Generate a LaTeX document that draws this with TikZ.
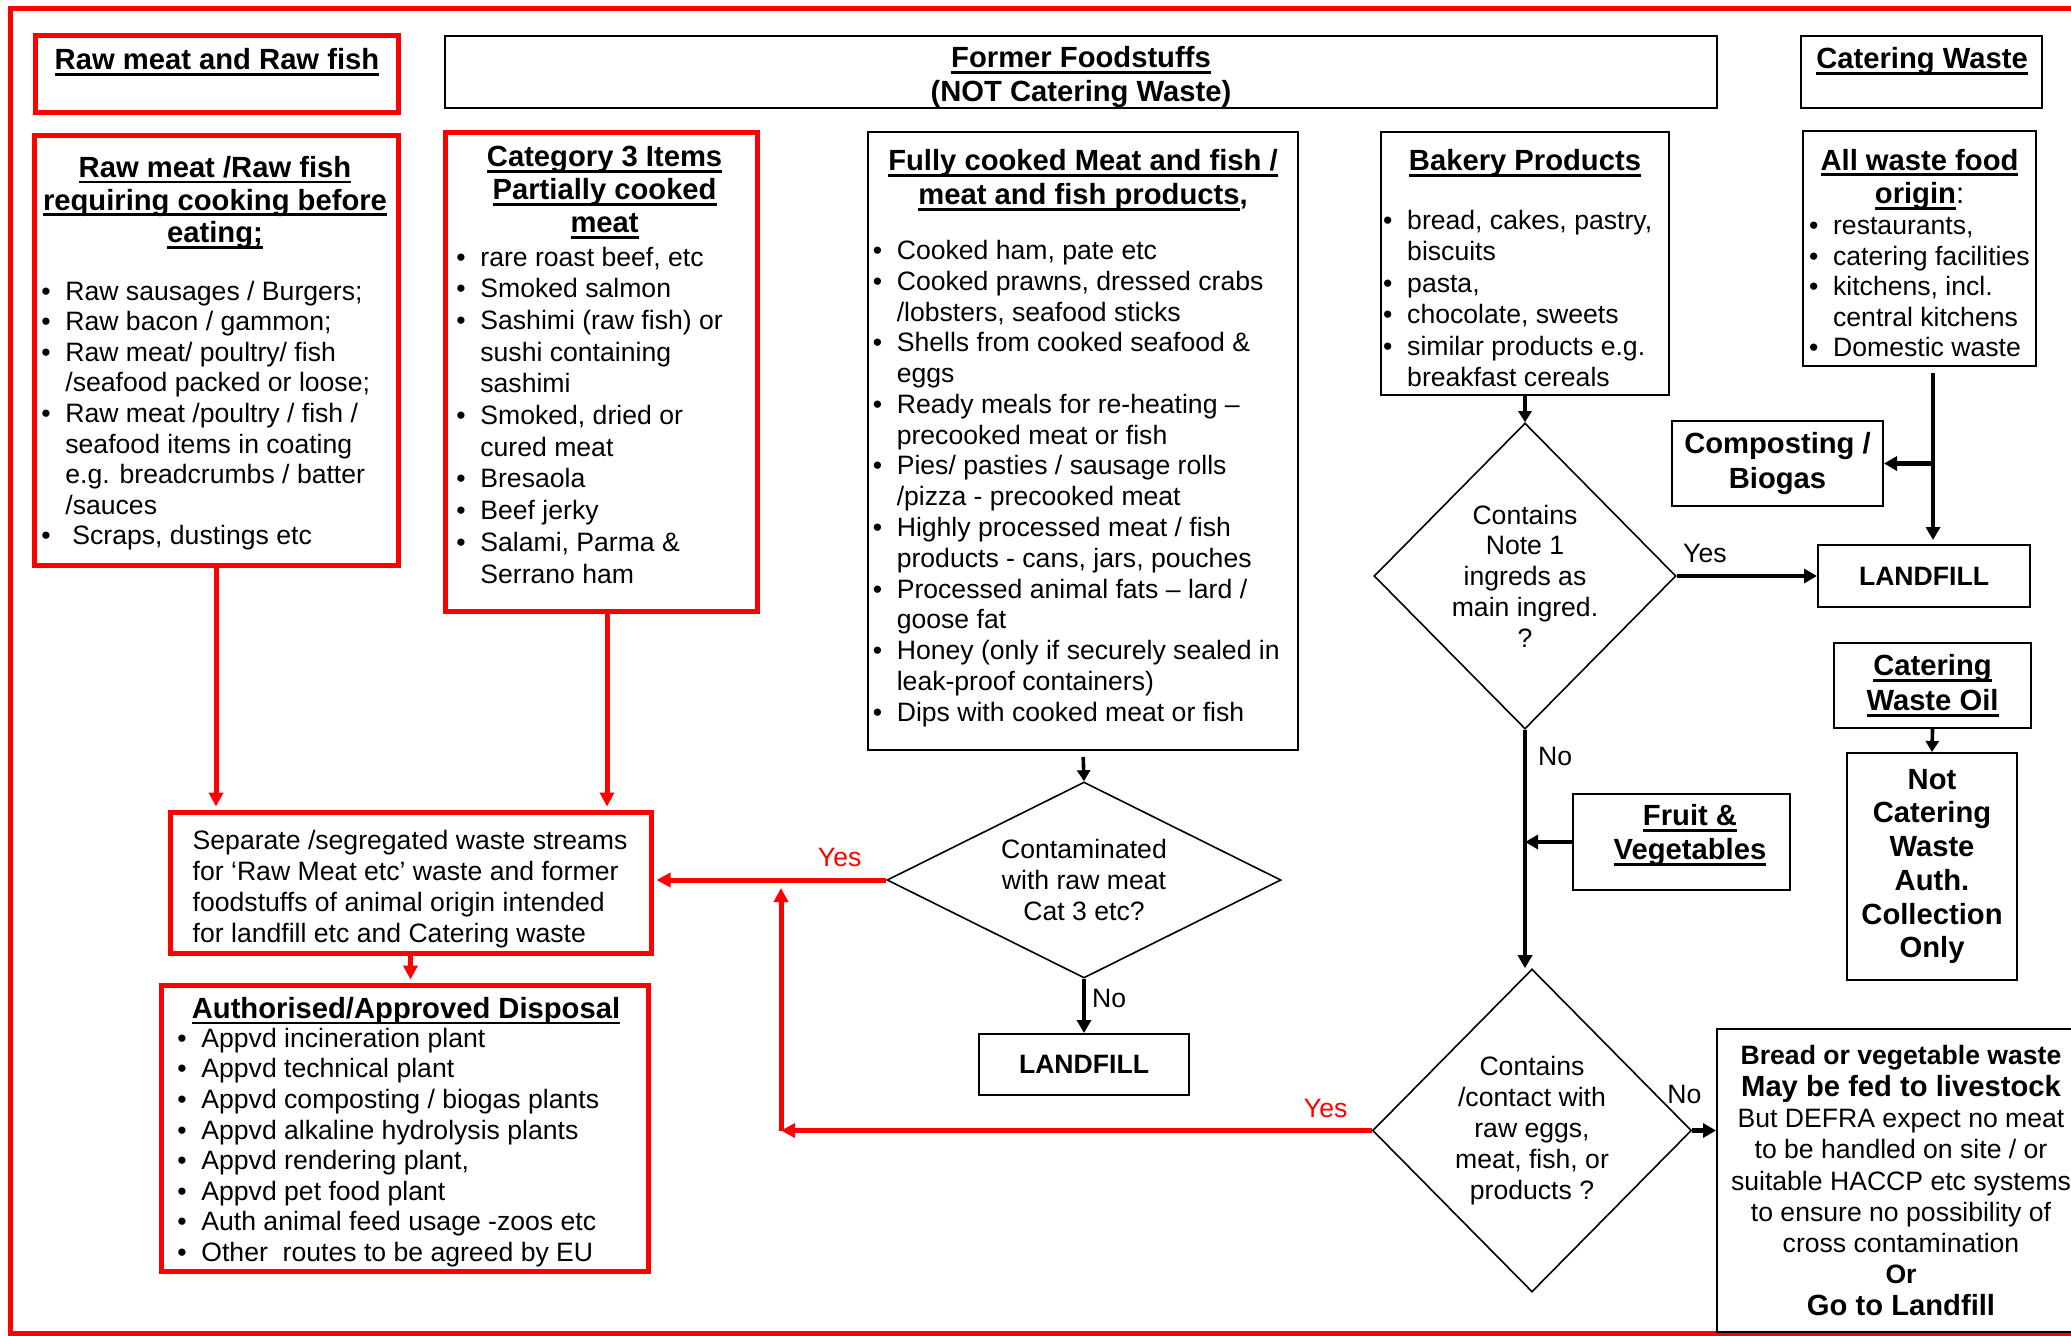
\documentclass[tikz,border=0pt]{standalone}
\usepackage{fontspec}
\setmainfont{Liberation Sans}
\usetikzlibrary{shapes.geometric,arrows.meta}

\newcommand{\txtfont}{\fontsize{13.3}{15.35}\selectfont}
\newcommand{\hdrfont}{\fontsize{14.6}{16.3}\selectfont\bfseries}
\newsavebox{\ulnbox}
\newcommand{\uln}[1]{\sbox{\ulnbox}{#1}\rlap{\rule[-3pt]{\wd\ulnbox}{1.4pt}}\usebox{\ulnbox}}
\newcommand{\itm}{\makebox[12pt][l]{\textbullet}}
\newcommand{\cnt}{\hspace*{12pt}}

\tikzset{
  ttl/.style={anchor=north,align=center,inner sep=0pt,font=\hdrfont},
  lst/.style={anchor=north west,align=left,inner sep=0pt,font=\txtfont},
  redarr/.style={red,line width=2.5pt,-{Triangle[length=7pt,width=7pt]},shorten >=1.5pt},
  blkarr/.style={line width=2.2pt,-{Triangle[length=6.5pt,width=7pt]}},
  thinarr/.style={line width=1.8pt,-{Triangle[length=5.5pt,width=6.5pt]}}
}

\begin{document}
\begin{tikzpicture}[x=0.5pt,y=-0.5pt]
\useasboundingbox (0,0) rectangle (2071,1335);
\draw[red,line width=2.5pt] (2080,8) -- (10,8) -- (10,1333) -- (2080,1333);

% red boxes
\begin{scope}[every node/.style={draw=red,line width=2.5pt,inner sep=0pt}]
\node[minimum width=181.5pt,minimum height=38.5pt] (rawtop) at (216.5,73.5) {};
\node[minimum width=182pt,minimum height=215pt] (raw) at (216,350) {};
\node[minimum width=156pt,minimum height=239.5pt] (cat3) at (601,371.5) {};
\node[minimum width=240.5pt,minimum height=70.5pt] (sep) at (410.5,882.5) {};
\node[minimum width=243.75pt,minimum height=143pt] (auth) at (404.75,1128) {};
\end{scope}

% black boxes
\begin{scope}[every node/.style={draw,line width=1pt,inner sep=0pt}]
\node[minimum width=636pt,minimum height=36pt] (former) at (1081,72) {};
\node[minimum width=120.5pt,minimum height=36pt] (catering) at (1921.5,72) {};
\node[minimum width=215pt,minimum height=309pt] (cooked) at (1083,441) {};
\node[minimum width=144pt,minimum height=131.5pt] (bakery) at (1525,263.5) {};
\node[minimum width=116.5pt,minimum height=117.5pt] (allwaste) at (1919.5,248.5) {};
\node[minimum width=108.5pt,minimum height=48pt] (fruit) at (1681.5,842) {};
\node[minimum width=105.5pt,minimum height=42.5pt,align=center,
  font=\fontsize{14.6}{17.5}\selectfont\bfseries] (compost) at (1777.5,463.5) {Composting /\\Biogas};
\node[minimum width=106pt,minimum height=31pt,font=\fontsize{13.3}{15}\selectfont\bfseries] (landR) at (1924,576) {LANDFILL};
\node[minimum width=105pt,minimum height=30.5pt,font=\fontsize{13.3}{15}\selectfont\bfseries] (landM) at (1084,1064.5) {LANDFILL};
\node[minimum width=98.5pt,minimum height=42.5pt,align=center,
  font=\fontsize{14.6}{17.5}\selectfont\bfseries] (oil) at (1932.5,685.5) {\uln{Catering}\\\uln{Waste Oil}};
\node[minimum width=85pt,minimum height=113.5pt,align=center,
  font=\fontsize{14.6}{16.85}\selectfont\bfseries] (notcat) at (1932,866.5) {Not\\Catering\\Waste\\Auth.\\Collection\\Only};
\node[minimum width=184pt,minimum height=151.5pt,align=center,
  font=\fontsize{13.3}{15.65}\selectfont] (bread) at (1901,1180.5)
  {\textbf{Bread or vegetable waste}\\{\fontsize{14.6}{15.65}\selectfont\bfseries May be fed to livestock}\\
   But DEFRA expect no meat\\to be handled on site / or\\suitable HACCP etc systems\\
   to ensure no possibility of\\cross contamination\\\textbf{Or}\\{\fontsize{14.6}{15.65}\selectfont\bfseries Go to Landfill}};
\end{scope}

% decisions
\begin{scope}[every node/.style={diamond,draw,line width=0.8pt,inner sep=0pt,align=center,
  font=\fontsize{13.3}{15.4}\selectfont}]
\node[minimum width=151pt,minimum height=153pt] (dia1) at (1525,576) {Contains\\Note 1\\ingreds as\\main ingred.\\?};
\node[minimum width=159.5pt,minimum height=161.5pt] (dia2) at (1532,1130.5) {Contains\\/contact with\\raw eggs,\\meat, fish, or\\products ?};
\node[aspect=2,minimum width=197pt,minimum height=98pt] (dia3) at (1084,880) {Contaminated\\with raw meat\\Cat 3 etc?};
\end{scope}

% headings
\node[ttl] (rawtopttl) at (217,46.7) {\strut\uln{Raw meat and Raw fish}};
\node[ttl,font=\fontsize{14.6}{17}\selectfont\bfseries] (formerttl) at (1081,43.7) {\strut\uln{Former Foodstuffs}\\(NOT Catering Waste)};
\node[ttl] (cateringttl) at (1922,45.7) {\strut\uln{Catering Waste}};
\node[ttl] (rawttl) at (215,154.2) {\strut\uln{Raw meat /Raw fish}\\\uln{requiring cooking before}\\\uln{eating;}};
\node[ttl,font=\fontsize{14.6}{16.5}\selectfont\bfseries] (cat3ttl) at (604.6,143.4) {\strut\uln{Category 3 Items}\\\uln{Partially cooked}\\\uln{meat}};
\node[ttl,font=\fontsize{14.6}{17}\selectfont\bfseries] (cookedttl) at (1083,146.7) {\strut\uln{Fully cooked Meat and fish /}\\\uln{meat and fish products},};
\node[ttl] (bakeryttl) at (1525,147.7) {\strut\uln{Bakery Products}};
\node[ttl,font=\fontsize{14.6}{16.75}\selectfont\bfseries] (allwastettl) at (1919.5,146.4) {\strut\uln{All waste food}\\\uln{origin}\textmd{:}};
\node[ttl] (authttl) at (406,995.2) {\strut\uln{Authorised/Approved Disposal}};
\node[ttl,font=\fontsize{14.6}{16.8}\selectfont\bfseries] (fruitttl) at (1690,802) {\strut\uln{Fruit \&}\\\uln{Vegetables}};

% lists
\node[lst,font=\fontsize{13.3}{15.3}\selectfont] (rawlst) at (41,278.2) {\strut\itm Raw sausages / Burgers;\\\itm Raw bacon / gammon;\\
  \itm Raw meat/ poultry/ fish\\\cnt /seafood packed or loose;\\\itm Raw meat /poultry / fish /\\
  \cnt seafood items in coating\\\cnt e.g. breadcrumbs / batter\\\cnt /sauces\\\itm\hspace{3.5pt}Scraps, dustings etc};
\node[lst,font=\fontsize{13.3}{15.85}\selectfont] (cat3lst) at (456,243.4) {\strut\itm rare roast beef, etc\\\itm Smoked salmon\\
  \itm Sashimi (raw fish) or\\\cnt sushi containing\\\cnt sashimi\\\itm Smoked, dried or\\\cnt cured meat\\
  \itm Bresaola\\\itm Beef jerky\\\itm Salami, Parma \&\\\cnt Serrano ham};
\node[lst,font=\fontsize{13.3}{15.38}\selectfont] (cookedlst) at (872.4,237.7) {\strut\itm Cooked ham, pate etc\\
  \itm Cooked prawns, dressed crabs\\\cnt /lobsters, seafood sticks\\\itm Shells from cooked seafood \&\\\cnt eggs\\
  \itm Ready meals for re-heating –\\\cnt precooked meat or fish\\\itm Pies/ pasties / sausage rolls\\
  \cnt /pizza - precooked meat\\\itm Highly processed meat / fish\\\cnt products - cans, jars, pouches\\
  \itm Processed animal fats – lard /\\\cnt goose fat\\\itm Honey (only if securely sealed in\\
  \cnt leak-proof containers)\\\itm Dips with cooked meat or fish};
\node[lst,font=\fontsize{13.3}{15.7}\selectfont] (bakerylst) at (1382.8,207.2) {\strut\itm bread, cakes, pastry,\\\cnt biscuits\\
  \itm pasta,\\\itm chocolate, sweets\\\itm similar products e.g.\\\cnt breakfast cereals};
\node[lst,font=\fontsize{13.3}{15.3}\selectfont] (allwastelst) at (1808.7,212.7) {\strut\itm restaurants,\\\itm catering facilities\\
  \itm kitchens, incl.\\\cnt central kitchens\\\itm Domestic waste};
\node[lst,font=\fontsize{13.3}{15.3}\selectfont] (authlst) at (177,1025.5) {\strut\itm Appvd incineration plant\\\itm Appvd technical plant\\
  \itm Appvd composting / biogas plants\\\itm Appvd alkaline hydrolysis plants\\\itm Appvd rendering plant,\\
  \itm Appvd pet food plant\\\itm Auth animal feed usage -zoos etc\\\itm Other\ \ routes to be agreed by EU};
\node[lst,font=\fontsize{13.3}{15.4}\selectfont] (septxt) at (192.3,828) {\strut Separate /segregated waste streams\\
  for ‘Raw Meat etc’ waste and former\\foodstuffs of animal origin intended\\for landfill etc and Catering waste};

% connectors
\coordinate (cat3out) at (607,611);
\coordinate (yesturn) at (781,1130.5);
\coordinate (yesup) at (781,888);
\coordinate (cwtop) at (1933,373);
\begin{scope}[every node/.style={font=\txtfont,inner sep=0pt}]
\draw[redarr] (raw.south) -- (raw.south |- sep.north);
\draw[redarr] (cat3out) -- (cat3out |- sep.north);
\draw[redarr] (sep.south) -- (sep.south |- auth.north);
\draw[redarr] (dia3.west) -- node[pos=0.2,above=5.5pt] {Yes} (dia3.west -| sep.east);
\draw[redarr,shorten >=0pt] (dia2.west) -- node[pos=0.078,above=5pt] {Yes} (yesturn);
\draw[redarr,shorten >=0pt] (yesturn) -- (yesup);

\draw[thinarr,shorten <=3pt] (cooked.south) -- (dia3.north);
\draw[thinarr] (bakery.south) -- (dia1.north);
\draw[thinarr] (oil.south) -- (notcat.north);
\draw[blkarr] (dia3.south) -- node[pos=0.36,right=3pt] {No} (landM.north);
\draw[blkarr] (dia1.east) -- node[pos=0.03,anchor=south west,yshift=5.5pt] {Yes} (landR.west);
\draw[blkarr] (dia1.south) -- node[pos=0.11,right=5.5pt] {No} (dia1.south |- dia2.north);
\draw[blkarr] (fruit.west) -- (fruit.west -| dia1.south);
\draw[blkarr,shorten >=2pt] (cwtop) -- (cwtop |- landR.north);
\draw[blkarr] (cwtop |- compost.east) -- (compost.east);
\draw[blkarr] (dia2.east) -- node[pos=0,anchor=south,xshift=-4pt,yshift=12.5pt] {No} (dia2.east -| bread.west);
\end{scope}
\end{tikzpicture}
\end{document}
